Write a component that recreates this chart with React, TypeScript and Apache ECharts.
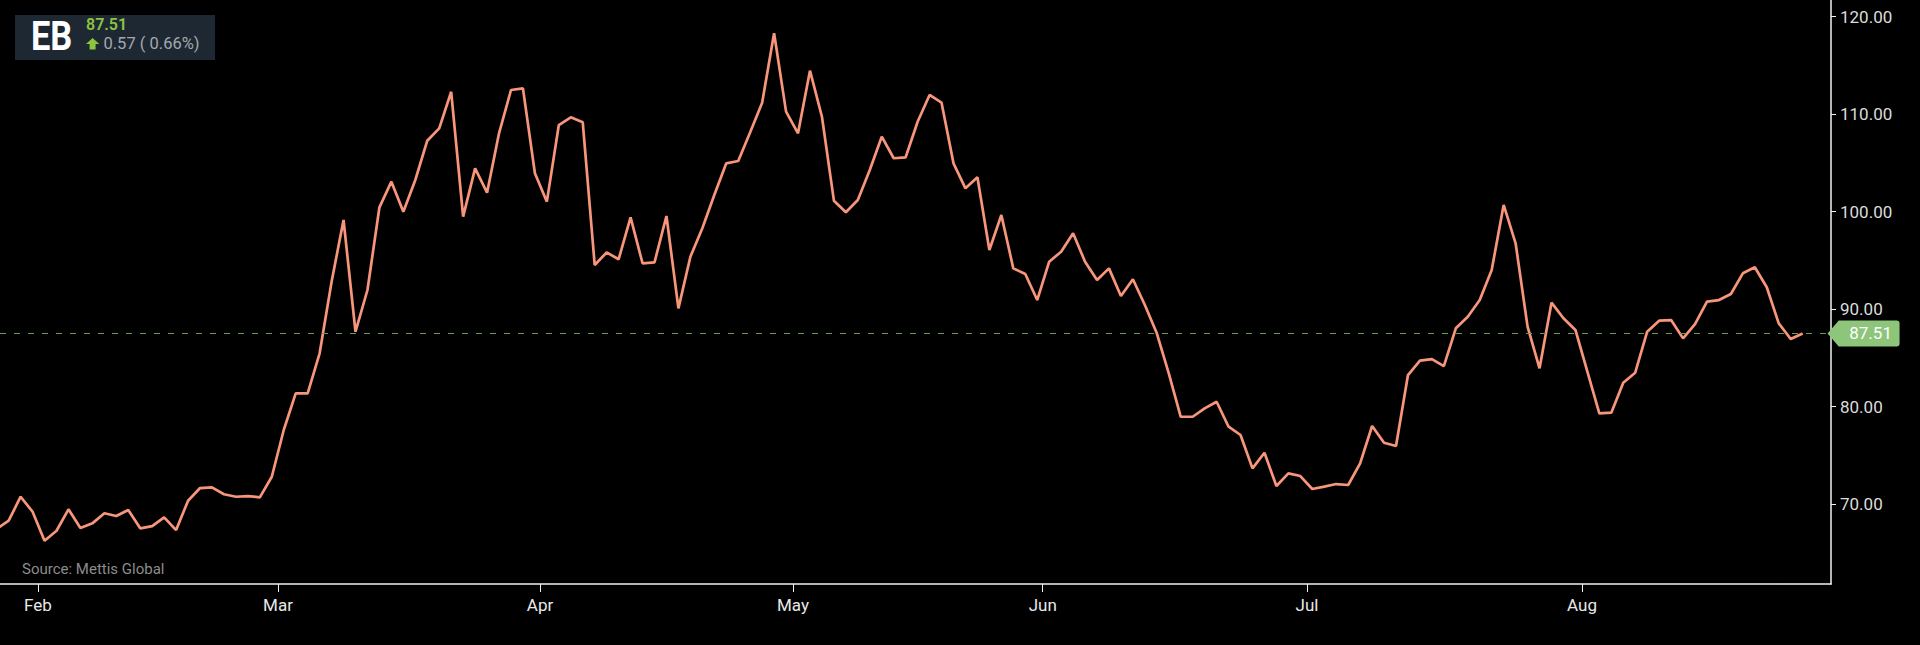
import React, { useEffect, useRef } from "react";
import * as echarts from "echarts";

// Daily closing prices (trading days), first one sits just off the left edge
const prices = [
  67.46, 68.31, 70.77, 69.23, 66.26, 67.28, 69.48, 67.56, 68.04, 69.07,
  68.79, 69.41, 67.53, 67.76, 68.66, 67.35, 70.36, 71.66, 71.73, 71.02,
  70.77, 70.84, 70.71, 72.82, 77.61, 81.37, 81.37, 85.48, 92.82, 99.15,
  87.69, 91.97, 100.45, 103.08, 100.0, 103.25, 107.28, 108.55, 112.3, 99.49,
  104.45, 101.95, 108.04, 112.48, 112.65, 103.94, 101.03, 108.89, 109.68, 109.17,
  94.53, 95.83, 95.12, 99.42, 94.71, 94.81, 99.56, 90.09, 95.38, 98.3,
  101.71, 104.96, 105.2, 108.14, 111.18, 118.3, 110.26, 108.04, 114.46, 109.74,
  101.13, 99.94, 101.2, 104.28, 107.69, 105.48, 105.58, 109.23, 111.97, 111.18,
  104.96, 102.4, 103.53, 96.07, 99.66, 94.19, 93.61, 90.94, 94.87, 95.9,
  97.78, 94.87, 93.0, 94.19, 91.35, 93.07, 90.43, 87.53, 83.42, 78.97,
  78.97, 79.83, 80.51, 77.95, 77.1, 73.68, 75.28, 71.87, 73.17, 72.89,
  71.56, 71.8, 72.07, 71.97, 74.19, 78.02, 76.31, 75.97, 83.25, 84.72,
  84.89, 84.17, 88.04, 89.23, 90.94, 94.02, 100.69, 96.76, 88.21, 83.94,
  90.67, 89.07, 87.87, 83.59, 79.32, 79.39, 82.46, 83.49, 87.69, 88.82,
  88.89, 87.01, 88.48, 90.77, 90.94, 91.56, 93.68, 94.3, 92.25, 88.55,
  86.94, 87.51,
];

// Month boundaries expressed in trading-day index units
const monthTickPos = [3.45, 23.52, 45.43, 66.58, 87.46, 109.56, 132.55];
const monthLabels = ["Feb", "Mar", "Apr", "May", "Jun", "Jul", "Aug"];
const yTicks = [70, 80, 90, 100, 110, 120];

const ticker = "EB";
const lastPrice = 87.51;
const priceChange = 0.57;
const pctChange = 0.66;
const sourceText = "Source: Mettis Global";

const xMin = 0.275;
const xMax = 153.37;
const yMin = 61.82;
const yMax = 121.71;

const FONT = "Roboto, 'Noto Sans', sans-serif";

export default function App() {
  const ref = useRef<HTMLDivElement>(null);

  useEffect(() => {
    document.body.style.margin = "0";
    document.body.style.background = "#000";
    const chart = echarts.init(ref.current as HTMLDivElement, null, {
      renderer: "svg",
    });

    const lastIdx = prices.length - 1;
    const tagPath =
      "path://M0,13 L11,0 L68,0 Q71,0 71,3 L71,23 Q71,26 68,26 L11,26 Z";

    chart.setOption({
      animation: false,
      backgroundColor: "#000",
      grid: { left: 0, right: 89, top: 0, bottom: 61, containLabel: false },
      xAxis: {
        type: "value",
        min: xMin,
        max: xMax,
        axisLine: { show: true, onZero: false, lineStyle: { color: "#f2f2f2", width: 1.5 } },
        axisTick: {
          show: true,
          customValues: monthTickPos,
          length: 8,
          lineStyle: { color: "#f2f2f2", width: 1 },
        },
        axisLabel: {
          customValues: monthTickPos,
          formatter: (v: number) => {
            let best = 0;
            let d = Infinity;
            monthTickPos.forEach((p, i) => {
              if (Math.abs(p - v) < d) {
                d = Math.abs(p - v);
                best = i;
              }
            });
            return monthLabels[best];
          },
          color: "#e8e8e8",
          fontFamily: FONT,
          fontSize: 17,
          margin: 12,
        },
        splitLine: { show: false },
      },
      yAxis: {
        type: "value",
        position: "right",
        min: yMin,
        max: yMax,
        axisLine: { show: true, onZero: false, lineStyle: { color: "#f2f2f2", width: 1.5 } },
        axisTick: {
          show: true,
          customValues: yTicks,
          length: 5,
          lineStyle: { color: "#f2f2f2", width: 1 },
        },
        axisLabel: {
          customValues: yTicks,
          formatter: (v: number) => v.toFixed(2),
          color: "#dcdcdc",
          fontFamily: FONT,
          fontSize: 17,
          margin: 9,
        },
        splitLine: { show: false },
      },
      series: [
        {
          type: "line",
          data: prices.map((v, i) => [i, v]),
          showSymbol: false,
          symbol: "none",
          clip: true,
          lineStyle: { color: "#f7967a", width: 2.7 },
          markLine: {
            silent: true,
            symbol: ["none", "none"],
            label: { show: false },
            lineStyle: { color: "#6f9a55", type: [6, 8], width: 1.2 },
            data: [[{ coord: [xMin, lastPrice] }, { coord: [lastIdx + 2, lastPrice] }]],
          },
          markPoint: {
            silent: true,
            symbol: tagPath,
            symbolSize: [72, 26],
            symbolOffset: [37, 0],
            itemStyle: { color: "#8dc57b" },
            label: {
              show: true,
              position: "inside",
              offset: [7, 0],
              formatter: lastPrice.toFixed(2),
              color: "#ffffff",
              fontFamily: FONT,
              fontSize: 17,
            },
            data: [{ coord: [lastIdx + 2, lastPrice], value: lastPrice }],
          },
        },
      ],
      graphic: [
        {
          type: "rect",
          left: 15,
          top: 15,
          shape: { width: 200, height: 45 },
          style: { fill: "#1d2833" },
          z: 10,
        },
        {
          type: "text",
          x: 31,
          y: 36,
          scaleX: 0.84,
          style: {
            text: ticker,
            fill: "#ffffff",
            font: `700 41px ${FONT}`,
            verticalAlign: "middle",
          },
          z: 11,
        },
        {
          type: "text",
          x: 86,
          y: 24.5,
          style: {
            text: lastPrice.toFixed(2),
            fill: "#8bc53f",
            font: `600 16px ${FONT}`,
            verticalAlign: "middle",
          },
          z: 11,
        },
        {
          type: "polygon",
          shape: {
            points: [
              [92.6, 38],
              [99.3, 44],
              [95.6, 44],
              [95.6, 49.5],
              [89.6, 49.5],
              [89.6, 44],
              [86, 44],
            ],
          },
          style: { fill: "#8bc53f" },
          z: 11,
        },
        {
          type: "text",
          x: 103.5,
          y: 43.5,
          style: {
            text: `${priceChange.toFixed(2)} ( ${pctChange.toFixed(2)}%)`,
            fill: "#a3a8ae",
            font: `400 16.5px ${FONT}`,
            verticalAlign: "middle",
          },
          z: 11,
        },
        {
          type: "text",
          x: 22,
          y: 569,
          style: {
            text: sourceText,
            fill: "#8c8c8c",
            font: `400 15px ${FONT}`,
            verticalAlign: "middle",
          },
          z: 11,
        },
      ],
    });

    return () => chart.dispose();
  }, []);

  return <div ref={ref} style={{ width: 1920, height: 645, background: "#000" }} />;
}
